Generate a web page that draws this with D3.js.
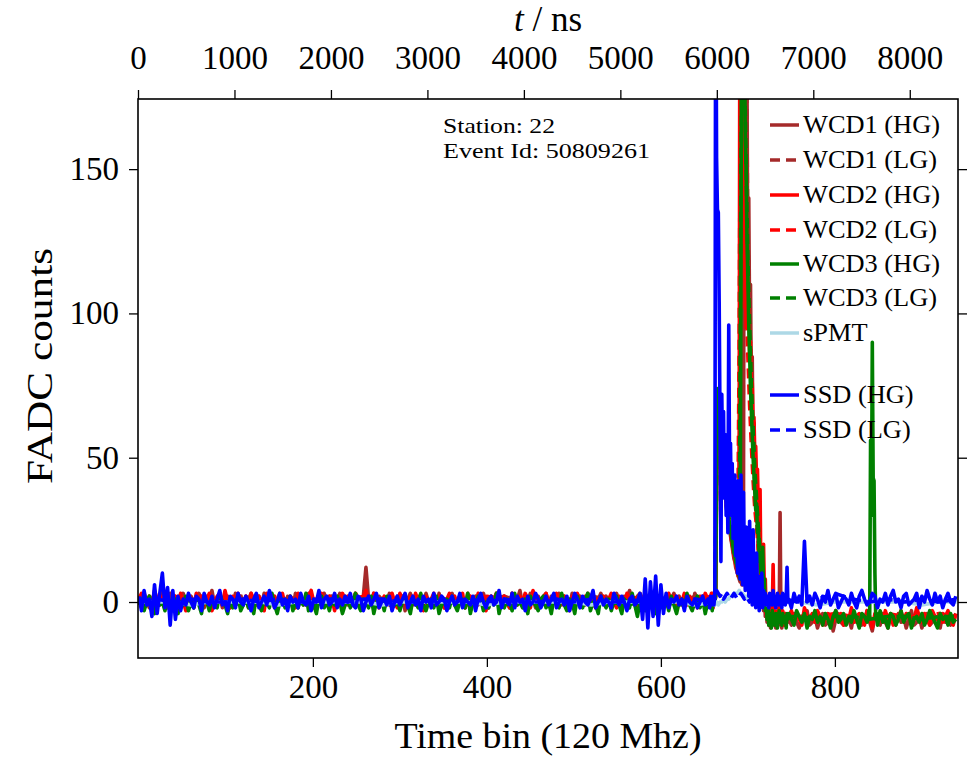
<!DOCTYPE html>
<html>
<head>
<meta charset="utf-8">
<script src="https://cdn.jsdelivr.net/npm/d3@7"></script>
<style>
  html, body { margin: 0; padding: 0; background: #fff; }
  svg { display: block; }
  text { font-family: "Liberation Serif", "DejaVu Serif", serif; fill: #000; }
</style>
</head>
<body>
<svg id="chart" width="972" height="758"></svg>
<script>
// ---------------- DATA ----------------
// Time-bin tick labels (bottom) and time tick labels (top, ns)
const binTicks = [200, 400, 600, 800];
const nsTicks = [0, 1000, 2000, 3000, 4000, 5000, 6000, 7000, 8000];
const countTicks = [0, 50, 100, 150];

// Segment layout: pre = bins 0..654 every 3 bins, peak = bins 655..746 every bin,
// post = bins 747..939 every 3 bins
const preStart = 0, preStep = 3, peakStart = 655, peakStep = 1, postStart = 747, postStep = 3;
const lateStart = 838, lateStep = 1;
const lgBaseStart = 0, lgBaseStep = 20, lgPeakStart = 660, lgPeakStep = 2;

// WCD1 (HG)
const wcd1HgPre = [
2,-1,3,0,-2,1,3,-1,2,4,0,-2,3,1,-1,2,0,3,-2,1,
2,-1,0,3,1,-2,2,0,4,-1,1,3,-2,0,2,1,-1,3,0,2,
-1,2,1,3,-2,0,2,-1,3,1,0,2,-2,1,3,0,-1,2,1,-2,
3,0,1,-1,2,3,0,-2,1,2,-1,3,0,1,2,-1,0,3,1,2,
-1,2,0,3,1,-1,2,12,1,0,3,-1,2,1,-2,0,3,1,-1,2,
0,2,-3,1,3,0,-1,2,1,-2,3,0,1,2,-1,3,0,-2,1,2,
3,-1,0,2,1,-2,3,1,0,2,-1,1,3,0,-2,2,1,3,-1,0,
2,1,-2,3,0,1,4,-1,2,0,3,1,-2,2,0,1,3,-1,2,0,
1,3,-1,2,0,-2,3,1,0,2,1,-1,3,2,0,-2,1,3,0,2,
-1,2,1,3,0,-2,2,1,4,0,-1,2,3,1,-2,0,2,1,3,-1,
1,0,2,-2,1,3,0,2,-1,1,2,0,-2,3,1,0,2,-1,1];
const wcd1HgPeak = [
1,-1,2,0,3,-1,2,1,3,
42,64,66,60,57,53,49,46,43,40,37,34,31,29,27,25,23,21,19,17,15,14,12,11,10,9,8,
7,8,6,7,
40,250,200,230,180,107,140,95,110,70,85,50,62,38,45,28,33,18,24,8,15,2,9,-3,4,-5,0,-7,-3,-8,-5,-9,-4,-7,-3,-8,-5,-9,-6,-4,-8,-5,31,-6,-9,-5,-7,-4,-8,-6,-5,-7];
const wcd1HgPost = [
-6,-8,-4,-7,-9,-5,-6,-3,-8,-7,-5,-9,-6,-4,-8,-7,-5,-10,-6,-4,
-7,-8,-5,-6,-9,-4,-7,-5,-8,-6,-3,-7,-10,-5,-6,-8,-4,-7,-9,-5,
-6,-8,-4,-7,-5,-9,-6,-3,-8,-7,-5,-9,-6,-4,-8,-7,-5,-6,-9,-4,
-7,-5,-8,-6,-4];

// WCD2 (HG)
const wcd2HgPre = [
1,3,-2,0,2,-3,4,1,-1,2,0,3,-2,1,2,-1,3,0,-3,2,
1,-2,3,0,2,-1,1,3,-3,0,2,1,-1,4,0,-2,2,1,3,-1,
0,2,-2,3,1,-1,2,0,-3,3,1,0,2,-2,1,3,-1,0,2,1,
-2,3,0,1,-1,2,4,0,-2,1,3,-1,0,2,1,-3,2,0,3,1,
2,-1,0,3,1,-2,2,4,0,-1,3,1,-2,0,2,1,-1,3,0,-2,
3,1,0,-2,2,-1,3,0,1,-3,2,0,1,3,-1,2,0,-2,1,3,
0,2,-1,1,3,-2,0,2,1,-1,3,0,2,-3,1,2,0,3,-1,1,
2,0,-2,3,1,-1,2,0,3,1,-2,4,0,1,-1,2,3,0,-2,1,
3,-1,0,2,1,-3,2,1,3,0,-1,2,0,1,3,-2,1,0,2,-1,
1,3,0,-2,2,1,-1,3,0,2,1,-3,2,0,3,1,-1,2,0,-2,
2,1,-1,3,0,2,-2,1,0,3,-1,2,0,1,-2,2,0,3,1];
const wcd2HgPeak = [
0,2,-1,3,1,-2,2,0,2,
40,68,70,63,59,55,51,47,44,41,38,35,32,30,28,26,24,22,20,18,16,15,13,12,11,9,
60,260,230,102,190,150,120,135,95,110,98,104,84,90,72,76,60,64,50,54,42,46,32,18,39,6,14,-2,20,3,8,-4,2,-6,1,-5,-2,-7,-3,13,-6,-3,-8,-4,-6,-2,-5,-7,-4,-6,-3,-8,-5,-4,-7,-5,-6];
const wcd2HgPost = [
-5,-3,-7,-4,-6,-8,-2,-5,-6,-4,-7,-3,-5,-8,-6,-4,-5,-7,-3,-6,
-4,-8,-5,-6,-2,-7,-5,-4,-6,-8,-3,-5,-9,-4,-6,-5,-7,-3,-6,-4,
-8,-5,-6,-3,-7,-4,-5,-8,-6,-2,-5,-7,-4,-6,-8,-3,-5,-6,-4,-7,
-5,-3,-6,-8,-4];

// WCD3 (HG)
const wcd3HgPre = [
-1,1,-3,0,2,-2,-4,1,-1,0,-3,2,-1,-2,1,-4,0,-1,2,-3,
0,-2,1,-1,-4,2,0,-3,1,-1,-2,3,0,-1,-4,1,-2,0,2,-3,
-1,1,-2,0,-4,2,-1,-3,1,0,-2,3,-1,-4,0,1,-2,-1,2,-3,
0,-2,1,-1,3,-3,0,-1,-4,1,2,-2,0,-3,1,-1,2,0,-4,-1,
1,-2,0,3,-1,-3,1,0,-2,2,-4,0,-1,1,-3,2,0,-2,-1,1,
-3,0,2,-1,-4,1,0,-2,3,-1,-3,0,1,-2,2,-4,-1,0,1,-2,
2,-1,-3,0,1,-2,3,-4,0,-1,2,1,-3,0,-2,1,-1,3,-4,0,
-2,1,0,-3,3,-1,0,-2,1,-4,2,0,-1,-3,1,2,-2,0,-4,1,
0,-2,3,-1,-3,1,0,-4,2,-1,-2,1,3,-3,0,-1,-4,2,0,-2,
1,-3,0,2,-1,-4,1,0,-2,3,-1,-5,0,1,-3,2,-1,0,-4,1,
-2,0,1,-3,2,-1,-4,0,1,-2,3,-1,-3,0,2,-2,1,-4,0];
const wcd3HgPeak = [
-1,1,-2,0,-3,1,-1,0,2,
48,74,72,66,61,57,53,49,45,42,39,36,34,31,29,27,25,23,21,19,17,16,14,13,12,10,9,8,
110,240,220,180,200,160,150,125,
112,96,86,74,66,58,50,44,38,32,34,24,26,14,16,10,12,
19,
4,8,-3,2,-6,-1,-8,-4,-6,-9,-3,-7,-5,-8,-4,-6,-9,-5,-3,-7,-5,-8,-4,-6,-7,-5,-9,-4,-6];
const wcd3HgPost = [
-4,-6,-8,-3,-5,-7,-4,-9,-5,-6,-3,-7,-5,-8,-4,-6,-9,-5,-3,-7,
-6,-4,-8,-5,-7,-3,-6,-9,-4,-5,-7,-6,-4,-8,-5,-3,-7,-6,-9,-4,
-5,-8,-6,-3,-7,-5,-4,-9,-6,-5,-7,-4,-8,-6,-3,-5,-7,-9,-4,-6,
-5,-8,-4,-7,-6];
const wcd3HgLate = [-6,-3,-5,56,30,90,43,42,10,-6,-4,-8];

// SSD (HG)
const ssdHgPre = [
2,-3,4,-1,1,-5,6,-4,3,10,-2,5,-8,4,-6,2,-3,1,-1,3,
0,-2,2,1,-3,3,0,-1,2,-2,1,4,-1,0,-3,2,1,-2,3,0,
-1,2,0,-3,1,3,-2,0,2,-1,4,1,-2,0,3,-1,1,-3,2,0,
1,-2,3,0,-1,2,-3,1,0,4,-2,1,2,-1,0,3,-2,1,-1,2,
0,3,-1,-2,2,1,-3,0,2,-1,1,3,-2,0,1,-1,2,-3,0,2,
-1,1,3,-2,0,2,-1,1,-3,2,0,1,-2,3,-1,0,2,1,-3,0,
2,-1,0,3,-2,1,0,-1,2,-3,1,3,0,-2,1,2,-1,0,4,-2,
1,0,-1,3,-2,2,0,1,-3,2,-1,0,3,1,-2,0,2,-1,1,3,
-2,0,1,-1,2,-3,0,3,1,-2,2,0,-1,1,4,-2,0,2,-1,1,
0,-2,3,1,-1,2,0,-3,1,2,-1,0,3,-6,8,-9,7,-5,9,-8,
6,-4,3,-2,1,0,2,-1,1,-3,2,0,-1,1,-2,0,2,-1,1];
const ssdHgPeak = [
1,-2,2,-1,0,2,-1,3,
240,154,136,135,104,60,14,72,48,66,36,58,30,50,24,96,42,55,30,48,22,40,44,16,36,10,42,28,8,44,20,6,38,14,4,26,10,18,2,28,9,22,-1,25,6,12,-2,17,3,9,-3,6,1,10,-2,4,0,3,
-1,2,1,-2,3,0,1,-1,4,0,2,-2,1,3,0,-1,2,1,-2,3,0,2,-1,1,12,0];
const ssdHgPost = [
1,-2,3,0,2,-1,21,0,2,-1,3,1,-2,2,0,4,-1,1,3,-2,
0,2,1,-1,3,0,-2,2,4,1,-1,0,3,2,-2,1,0,3,-1,2,
4,0,1,-2,2,3,-1,0,1,3,-2,2,0,4,1,-1,3,0,2,-2,
1,3,0,-1,2];

// Low-gain traces and sPMT (coarse baseline every 20 bins + pulse every 2 bins)
const wcd1LgBase = [1,0,2,1,0,1,2,0,1,1,0,2,1,0,1,1,2,0,1,0,1,2,0,1,1,0,2,1,0,1,1,0,2,0,1,1,0,-5,-6,-5,-6,-5,-6,-6,-5,-6,-5,-6];
const wcd1LgPeak = [0,1,38,62,55,48,42,36,31,27,23,20,16,13,10,8,7,6,200,210,120,100,78,55,40,28,20,12,6,2,-2,-4,-5];
const wcd2LgBase = [0,1,1,0,2,1,0,1,0,1,1,0,1,2,0,1,0,1,1,0,2,1,0,1,0,1,1,0,2,1,0,1,1,0,1,0,1,-4,-5,-5,-4,-5,-5,-4,-5,-5,-4,-5];
const wcd2LgPeak = [1,2,44,66,58,50,44,38,33,28,24,21,17,14,11,90,220,170,130,105,85,68,54,42,32,26,18,12,6,2,-1,-3,-4];
const wcd3LgBase = [0,-1,0,-1,0,0,-1,0,-1,0,-1,0,0,-1,0,-1,0,0,-1,0,0,-1,0,-1,0,0,-1,0,-1,0,0,-1,0,0,-1,0,0,-5,-5,-6,-5,-5,-6,-5,-5,-6,-5,-5];
const wcd3LgPeak = [-1,0,50,70,60,52,46,40,35,30,26,22,18,15,12,10,150,210,190,150,118,96,76,60,46,36,26,18,10,4,0,-3,-5];
const spmtBase = [0,0,0,-1,0,0,0,0,-1,0,0,0,0,0,-1,0,0,0,0,0,-1,0,0,0,0,0,-1,0,0,0,0,0,-1,0,0,0,0,0,0,-1,0,0,0,0,0,-1,0,0];
const spmtPeak = [0,-1,0,-1,0,0,1,0,1,1,2,2,3,3,3,4,3,3,2,2,1,1,0,0,-1,0,-1,0,-1,0,0,-1,0];
const ssdLgBase = [0,1,0,1,0,0,1,0,1,0,0,1,0,1,1,0,0,1,0,1,0,1,0,0,1,0,1,0,0,1,0,0,1,0,1,0,1,1,0,1,3,1,0,1,0,1,0,1];
const ssdLgPeak = [0,1,4,3,2,3,1,2,3,2,1,2,3,2,1,2,3,2,1,2,1,0,2,1,0,1,0,1,0,1,0,1,0];

const stationLabel = "Station: 22";
const eventLabel = "Event Id: 50809261";

// ---------------- BUILD ----------------
function seg(start, step, values) { return { start, step, values }; }
function build(segs) {
  let pts = [];
  segs.forEach(s => {
    const end = s.start + s.step * (s.values.length - 1);
    pts = pts.filter(p => p[0] < s.start || p[0] > end);
    s.values.forEach((v, k) => pts.push([s.start + k * s.step, v]));
  });
  return pts.sort((a, b) => a[0] - b[0]);
}

const series = [
  { name: "WCD1 (HG)", color: "#a52a2a", dash: null,
    data: build([seg(preStart, preStep, wcd1HgPre), seg(peakStart, peakStep, wcd1HgPeak), seg(postStart, postStep, wcd1HgPost)]) },
  { name: "WCD1 (LG)", color: "#a52a2a", dash: "10,6",
    data: build([seg(lgBaseStart, lgBaseStep, wcd1LgBase), seg(lgPeakStart, lgPeakStep, wcd1LgPeak)]) },
  { name: "WCD2 (HG)", color: "#ff0000", dash: null,
    data: build([seg(preStart, preStep, wcd2HgPre), seg(peakStart, peakStep, wcd2HgPeak), seg(postStart, postStep, wcd2HgPost)]) },
  { name: "WCD2 (LG)", color: "#ff0000", dash: "10,6",
    data: build([seg(lgBaseStart, lgBaseStep, wcd2LgBase), seg(lgPeakStart, lgPeakStep, wcd2LgPeak)]) },
  { name: "WCD3 (HG)", color: "#008000", dash: null,
    data: build([seg(preStart, preStep, wcd3HgPre), seg(peakStart, peakStep, wcd3HgPeak), seg(postStart, postStep, wcd3HgPost), seg(lateStart, lateStep, wcd3HgLate)]) },
  { name: "WCD3 (LG)", color: "#008000", dash: "10,6",
    data: build([seg(lgBaseStart, lgBaseStep, wcd3LgBase), seg(lgPeakStart, lgPeakStep, wcd3LgPeak)]) },
  { name: "sPMT", color: "#add8e6", dash: null,
    data: build([seg(lgBaseStart, lgBaseStep, spmtBase), seg(lgPeakStart, lgPeakStep, spmtPeak)]) },
  { name: "", color: "none", dash: null, data: [] },
  { name: "SSD (HG)", color: "#0000ff", dash: null,
    data: build([seg(preStart, preStep, ssdHgPre), seg(peakStart, peakStep, ssdHgPeak), seg(postStart, postStep, ssdHgPost)]) },
  { name: "SSD (LG)", color: "#0000ff", dash: "10,6",
    data: build([seg(lgBaseStart, lgBaseStep, ssdLgBase), seg(lgPeakStart, lgPeakStep, ssdLgPeak)]) }
];

// ---------------- DRAW ----------------
const L = 138, R = 958, T = 99, B = 658;
const svg = d3.select("#chart");

const x = d3.scaleLinear().domain([-1, 941.5]).range([L, R]);
const xTop = d3.scaleLinear().domain([0, 8500]).range([L, R]);
const y = d3.scaleLinear().domain([-19.4, 174.3]).range([B, T]);

svg.append("defs").append("clipPath").attr("id", "plotclip")
  .append("rect").attr("x", L).attr("y", T).attr("width", R - L).attr("height", B - T);

const line = d3.line().x(d => x(d[0])).y(d => y(d[1]));
const plot = svg.append("g").attr("clip-path", "url(#plotclip)");
series.forEach(s => {
  if (!s.data.length) return;
  plot.append("path")
    .datum(s.data)
    .attr("fill", "none")
    .attr("stroke", s.color)
    .attr("stroke-width", 3.6)
    .attr("stroke-linejoin", "round")
    .attr("stroke-dasharray", s.dash)
    .attr("d", line);
});

// Axes
const tickFont = 33;
function styleAxis(g) {
  g.selectAll(".domain").remove();
  g.selectAll(".tick line").attr("stroke", "#000").attr("stroke-width", 1.3);
  g.selectAll(".tick text").attr("font-size", tickFont).attr("font-family", "Liberation Serif");
}
svg.append("g").attr("transform", `translate(0,${B})`)
  .call(d3.axisBottom(x).tickValues(binTicks).tickSize(9).tickPadding(8).tickFormat(d3.format("d")))
  .call(styleAxis);
svg.append("g").attr("transform", `translate(0,${T})`)
  .call(d3.axisTop(xTop).tickValues(nsTicks).tickSize(9).tickPadding(21).tickFormat(d3.format("d")))
  .call(styleAxis);
svg.append("g").attr("transform", `translate(${L},0)`)
  .call(d3.axisLeft(y).tickValues(countTicks).tickSize(9).tickPadding(10).tickFormat(d3.format("d")))
  .call(styleAxis);
svg.append("g").attr("transform", `translate(${R},0)`)
  .call(d3.axisRight(y).tickValues(countTicks).tickSize(9).tickFormat(""))
  .call(styleAxis);

// Frame
svg.append("rect").attr("x", L).attr("y", T).attr("width", R - L).attr("height", B - T)
  .attr("fill", "none").attr("stroke", "#000").attr("stroke-width", 1.6);

// Axis labels
svg.append("text").attr("x", (L + R) / 2).attr("y", 748).attr("text-anchor", "middle")
  .attr("font-size", 35).attr("textLength", 307).attr("lengthAdjust", "spacingAndGlyphs")
  .text("Time bin (120 Mhz)");
svg.append("text").attr("transform", "translate(52,366) rotate(-90)").attr("text-anchor", "middle")
  .attr("font-size", 35).attr("textLength", 236).attr("lengthAdjust", "spacingAndGlyphs")
  .text("FADC counts");
const topLab = svg.append("text").attr("x", (L + R) / 2).attr("y", 31).attr("text-anchor", "middle")
  .attr("font-size", 35);
topLab.append("tspan").attr("font-style", "italic").text("t");
topLab.append("tspan").text(" / ns");

// Station / event annotation
svg.append("text").attr("x", 443).attr("y", 133).attr("font-size", 22)
  .attr("textLength", 112).attr("lengthAdjust", "spacingAndGlyphs").text(stationLabel);
svg.append("text").attr("x", 443).attr("y", 158).attr("font-size", 22)
  .attr("textLength", 207).attr("lengthAdjust", "spacingAndGlyphs").text(eventLabel);

// Legend
const legendRows = [125, 160, 195, 230, 264, 298, 333, 364, 395, 430];
const lg = svg.append("g");
series.forEach((s, i) => {
  if (!s.name) return;
  const cy = legendRows[i];
  lg.append("line").attr("x1", 770).attr("x2", 799).attr("y1", cy).attr("y2", cy)
    .attr("stroke", s.color).attr("stroke-width", 3.5).attr("stroke-dasharray", s.dash);
  const t = lg.append("text").attr("x", 803).attr("y", cy + 8).attr("font-size", 25).text(s.name);
  const w = t.node().getComputedTextLength();
  t.attr("textLength", w * 1.055).attr("lengthAdjust", "spacingAndGlyphs");
});
</script>
</body>
</html>
